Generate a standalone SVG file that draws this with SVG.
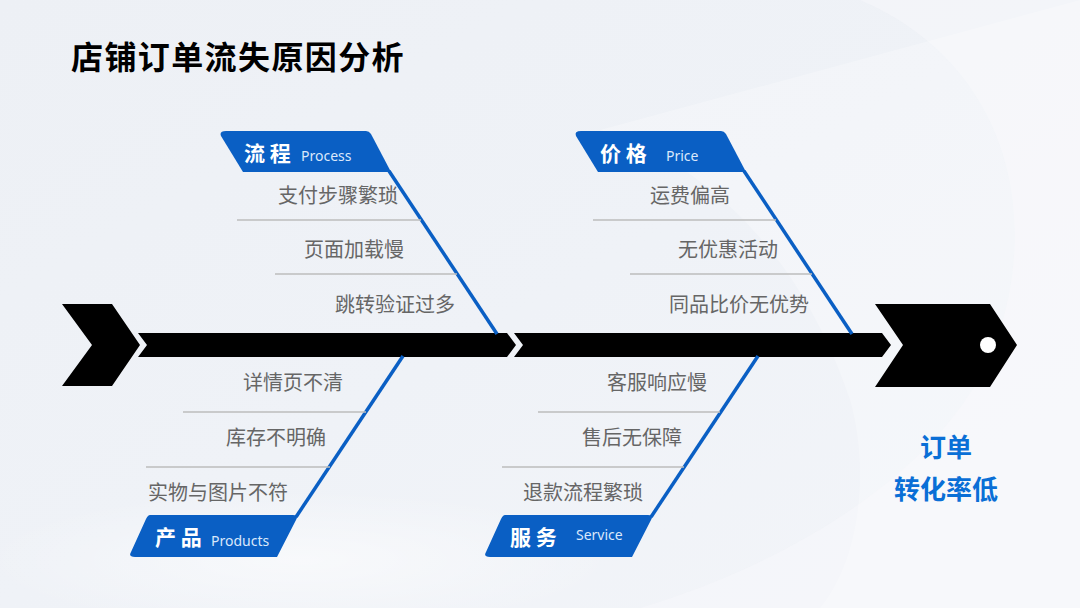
<svg xmlns="http://www.w3.org/2000/svg" width="1080" height="608" viewBox="0 0 1080 608">
<defs>
<linearGradient id="bg" x1="0" y1="0" x2="1" y2="1">
<stop offset="0" stop-color="#edf0f5"/>
<stop offset="0.5" stop-color="#eff2f7"/>
<stop offset="1" stop-color="#f3f5f9"/>
</linearGradient>
<radialGradient id="glow" cx="0.5" cy="0.5" r="0.5">
<stop offset="0" stop-color="#ffffff" stop-opacity="0.9"/>
<stop offset="1" stop-color="#ffffff" stop-opacity="0"/>
</radialGradient>
<style>
.item{font-family:"Noto Sans CJK SC","Noto Sans",sans-serif;font-size:20px;fill:#666666;}
.lbl{font-family:"Noto Sans CJK SC","Noto Sans",sans-serif;font-size:21px;font-weight:bold;fill:#ffffff;}
.en{font-family:"Noto Sans","Noto Sans CJK SC",sans-serif;font-size:14px;fill:#dbe8fb;}
.tag{fill:#0a5fc4;}
.bone{stroke:#0a5fc4;stroke-width:3.5;fill:none;}
.div{stroke:#bdbdbd;stroke-width:1.3;}
.spine{fill:#000000;}
</style>
</defs>
<rect width="1080" height="608" fill="url(#bg)"/>
<path d="M860,0 C1000,60 1040,200 1000,330 C960,460 800,560 640,608 L1080,608 L1080,0 Z" fill="#f7f8fb" opacity="0.5"/>
<path d="M600,130 C700,160 800,250 850,400 C870,470 860,560 820,608 L1080,608 L1080,0 Z" fill="#ffffff" opacity="0.25"/>
<ellipse cx="300" cy="560" rx="320" ry="70" fill="url(#glow)" opacity="0.6"/>

<text x="71" y="69" font-family="Noto Sans CJK SC, sans-serif" font-size="32" font-weight="bold" fill="#000000" letter-spacing="1.4">店铺订单流失原因分析</text>

<g id="spine">
<path class="spine" d="M62,304 L112,304 L140,345 L112,386 L62,386 L92,345 Z"/>
<path class="spine" d="M138,333 L507,333 L516,345 L507,357 L138,357 L147,345 Z"/>
<path class="spine" d="M514,333 L882,333 L891,345 L882,357 L514,357 L523,345 Z"/>
</g>

<g id="head">
<path class="spine" d="M875,304 L990,304 L1017,345 L990,387 L875,387 L903,345 Z"/>
<circle cx="988" cy="345" r="8" fill="#ffffff"/>
</g>

<g id="result">
<text x="946" y="457" text-anchor="middle" font-family="Noto Sans CJK SC, sans-serif" font-size="26" font-weight="bold" fill="#0a6fd6">订单</text>
<text x="946" y="499" text-anchor="middle" font-family="Noto Sans CJK SC, sans-serif" font-size="26" font-weight="bold" fill="#0a6fd6">转化率低</text>
</g>

<g id="connectors">
<line class="bone" x1="389" y1="171" x2="497" y2="334"/>
<line class="bone" x1="744" y1="171" x2="852" y2="334"/>
<line class="bone" x1="403" y1="356" x2="296" y2="517"/>
<line class="bone" x1="758" y1="356" x2="651" y2="517"/>
<line class="div" x1="237" y1="220" x2="421" y2="220"/>
<line class="div" x1="275" y1="274" x2="457" y2="274"/>
<line class="div" x1="593" y1="220" x2="776" y2="220"/>
<line class="div" x1="630" y1="274" x2="812" y2="274"/>
<line class="div" x1="183" y1="412" x2="366" y2="412"/>
<line class="div" x1="146" y1="467" x2="330" y2="467"/>
<line class="div" x1="538" y1="412" x2="720" y2="412"/>
<line class="div" x1="502" y1="467" x2="684" y2="467"/>
</g>

<g id="process">
<path class="tag" d="M226,131 L366,131 Q369,131 371,134 L391,172 L243,172 L221,136 Q219,131 226,131 Z"/>
<text class="lbl" x="244" y="161">流 程</text>
<text class="en" x="301" y="161">Process</text>
<text class="item" x="398" y="203" text-anchor="end">支付步骤繁琐</text>
<text class="item" x="404" y="257" text-anchor="end">页面加载慢</text>
<text class="item" x="455" y="312" text-anchor="end">跳转验证过多</text>
</g>

<g id="price">
<path class="tag" d="M581,131 L721,131 Q724,131 726,134 L746,172 L598,172 L576,136 Q574,131 581,131 Z"/>
<text class="lbl" x="600" y="161">价 格</text>
<text class="en" x="666" y="161">Price</text>
<text class="item" x="730" y="203" text-anchor="end">运费偏高</text>
<text class="item" x="778" y="257" text-anchor="end">无优惠活动</text>
<text class="item" x="809" y="312" text-anchor="end">同品比价无优势</text>
</g>

<g id="product">
<path class="tag" d="M150,515 L293,515 Q299,515 296,520 L277,557 L135,557 Q128,557 131,552 L146,519 Q148,515 150,515 Z"/>
<text class="lbl" x="155" y="545">产 品</text>
<text class="en" x="211" y="546">Products</text>
<text class="item" x="343" y="390" text-anchor="end">详情页不清</text>
<text class="item" x="326" y="445" text-anchor="end">库存不明确</text>
<text class="item" x="148" y="500">实物与图片不符</text>
</g>

<g id="service">
<path class="tag" d="M505,515 L648,515 Q654,515 651,520 L632,557 L490,557 Q483,557 486,552 L501,519 Q503,515 505,515 Z"/>
<text class="lbl" x="510" y="545">服 务</text>
<text class="en" x="576" y="540">Service</text>
<text class="item" x="707" y="390" text-anchor="end">客服响应慢</text>
<text class="item" x="682" y="445" text-anchor="end">售后无保障</text>
<text class="item" x="523" y="500">退款流程繁琐</text>
</g>
</svg>
